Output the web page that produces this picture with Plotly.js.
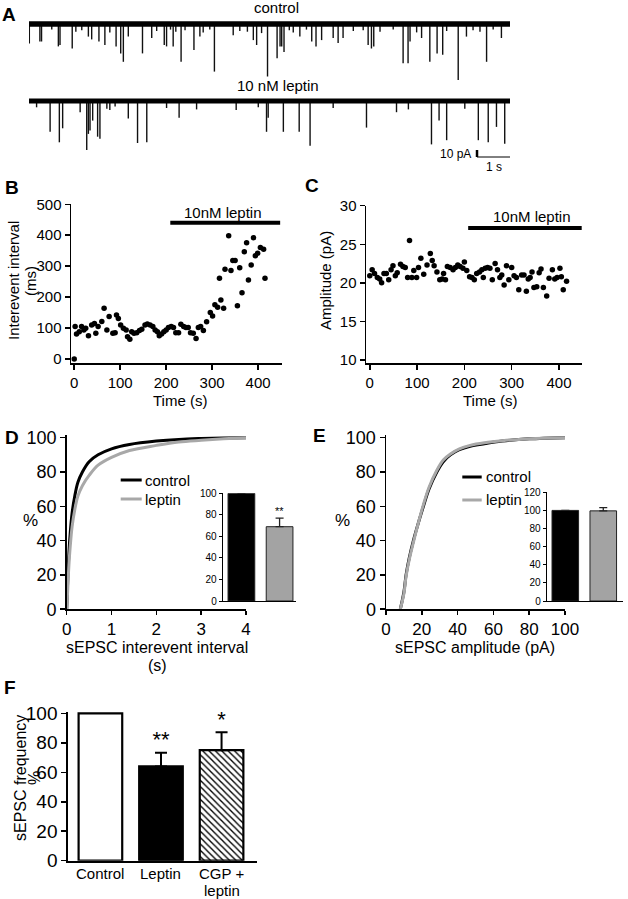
<!DOCTYPE html>
<html><head><meta charset="utf-8">
<script src="https://cdn.plot.ly/plotly-3.0.1.min.js"></script>
<style>body{margin:0;background:#fff}#c{width:628px;height:899px}</style>
</head><body><div id="c"></div>
<script>
// ---------- DATA ----------
// Panel A: spontaneous EPSC events (time s, amplitude pA)
const ctlEventT   = [0.01,0.33,0.38,0.89,0.94,1.31,1.80,1.90,2.12,2.30,2.64,2.78,2.86,3.01,3.44,3.72,4.10,4.17,4.37,4.61,5.00,5.18,5.62,6.19,6.80,6.90,7.05,7.23,7.52,7.61,7.66,7.73,8.21,8.57,8.70,8.87,9.22,9.37,9.52,10.28,10.38,10.45,11.34,11.49,11.55,11.90,12.15,12.37,12.54,13.01,13.26,13.87,14.32,
  0.69,1.42,1.60,2.45,3.87,4.29,4.45,4.73,5.28,5.48,6.39,6.62,7.89,8.01,8.41,9.83,10.13,10.64,11.04,11.75,12.66,13.46,13.67,14.07];
const ctlEventAmp = [28,25,25,32,30,35,18,22,25,30,32,42,54,18,42,20,30,32,32,54,37,18,68,16,23,30,13,75,49,32,32,40,18,25,32,23,20,27,20,30,35,32,56,56,25,20,54,42,44,80,18,54,20,
  8,11,9,12,10,8,11,9,12,8,10,11,9,12,8,10,9,11,8,12,10,9,11,8];
const lepEventT   = [0.64,0.92,1.02,1.55,1.75,1.80,1.85,1.93,2.08,2.15,2.45,3.01,3.29,3.57,4.55,7.20,7.25,7.71,8.19,8.52,10.23,11.14,12.20,12.43,12.66,13.62,13.92,14.17,14.42,
  0.23,2.36,2.61,4.17,5.08,6.28,6.95,9.22,11.50,13.21];
const lepEventAmp = [44,59,39,16,70,47,42,28,51,54,13,25,60,59,24,44,24,44,44,64,38,16,62,28,56,56,59,37,61,
  9,11,8,10,12,13,9,10,12,11];
const scaleBarPA = 10, scaleBarS = 1;

// Panel B: interevent interval over time
const bTime = [0,2,5,11,16,21,25,31,38,44,47,52,60,65,71,76,84,89,92,96,101,107,113,116,121,125,130,136,142,147,154,159,165,171,176,181,185,190,195,200,205,211,216,221,227,232,238,243,248,253,259,265,270,275,281,288,296,301,306,312,316,319,325,328,336,341,345,350,355,360,365,370,375,379,385,390,394,399,405,412,415];
const bInterval = [0,105,81,88,105,94,99,75,110,115,83,105,121,164,94,137,83,85,142,131,110,99,94,72,64,88,83,85,92,96,110,113,110,105,94,88,75,81,88,94,102,105,102,85,85,112,105,102,102,85,83,66,102,105,92,120,150,139,175,167,261,191,164,290,398,286,318,318,172,295,214,347,376,255,304,392,334,342,360,355,261];
const bLeptinPeriod = [209, 448];

// Panel C: amplitude over time
const cTime = [0,5,10,16,21,25,30,35,40,45,49,54,58,65,70,75,80,84,89,93,99,103,108,114,121,128,132,136,142,148,153,156,160,164,170,176,181,186,191,197,200,205,211,216,221,226,232,237,240,244,249,254,259,265,270,275,279,284,289,294,300,305,310,315,321,326,331,335,339,343,347,353,358,362,367,374,379,386,391,396,402,405,409,416];
const cAmplitude = [20.9,21.7,21.2,20.7,20.5,20.0,21.2,21.2,20.4,21.7,22.2,20.9,21.3,22.4,22.1,22.0,20.7,25.5,20.7,21.6,20.7,22.0,23.2,21.1,22.3,23.8,22.9,22.2,21.4,20.4,20.5,21.2,20.4,22.1,22.0,21.7,22.0,22.3,22.1,21.9,22.7,21.6,20.8,20.7,20.4,21.2,21.4,21.7,20.7,21.9,22.0,21.9,20.4,22.5,21.7,20.7,21.0,19.7,22.2,20.4,22.0,20.9,20.7,19.1,21.0,21.0,18.9,20.5,20.7,21.4,19.4,19.5,21.3,21.8,19.4,18.3,20.6,21.7,20.5,20.7,21.9,20.8,19.1,20.2];
const cLeptinPeriod = [208, 449];

// Panel D: cumulative distribution of interevent interval (s, %)
const dX       = [0,0.02,0.05,0.08,0.12,0.18,0.25,0.35,0.5,0.7,1.0,1.4,2.0,2.5,3.0,3.5,4.0];
const dControl = [0,15,33,45,56,66,74,80,86,90,93.5,96,98,99,99.5,99.8,100];
const dLeptin  = [0,10,26,37,48,58,66,72,78,84,88.5,92.5,95.5,97.5,98.5,99.3,100];
const dInsetVals = [100, 69];
const dInsetErr  = [0, 8];

// Panel E: cumulative distribution of amplitude (pA, %)
const eX       = [8,10,11.2,13,15.3,18,20.9,24,28.4,32,36,41,47,55,65,80,100];
const eControl = [0,10,20,30,40,50,60,70,80,86,90,93,95,96.5,98,99.3,100];
const eLeptin  = [0,9,19,29,39,50,61,71,81,87,90.5,93.5,95.5,97,98.2,99.4,100];
const eInsetVals = [100, 99.5];
const eInsetErr  = [0, 3.5];

// Panel F: sEPSC frequency
const fCats = ['Control', 'Leptin', 'CGP +<br>leptin'];
const fVals = [100, 64, 75];
const fErr  = [0, 9.3, 12.2];
const fStars = ['', '**', '*'];
// styles for F bars
const fFill = ['#fff', '#000', '#fff'];
const fHatch = ['', '', '\\'];

// ---------- LAYOUT HELPERS ----------
const W = 628, H = 899;
const FONT = 'Liberation Sans, Arial, Helvetica, sans-serif';
const dx = (a, b) => [a / W, b / W];
const dy = (t, b) => [1 - b / H, 1 - t / H];
function ann(text, x, y, size, extra) {
  return Object.assign({text, x: x / W, y: 1 - y / H, xref: 'paper', yref: 'paper', showarrow: false,
    font: {family: FONT, size, color: '#000'}, xanchor: 'center', yanchor: 'middle'}, extra || {});
}
function ax(extra) {
  return Object.assign({showline: true, linecolor: '#000', linewidth: 1.5, ticks: 'outside', ticklen: 5,
    tickwidth: 1.5, tickcolor: '#000', showgrid: false, zeroline: false, fixedrange: true,
    tickfont: {family: FONT, size: 15, color: '#000'}}, extra);
}
function spikes(ts, amps) {
  const x = [], y = [];
  ts.forEach((t, i) => { x.push(t, t, null); y.push(0, -amps[i], null); });
  return {x, y};
}
const traceEnd = 14.58;

const data = [];
// Panel A
const cs = spikes(ctlEventT, ctlEventAmp), ls = spikes(lepEventT, lepEventAmp);
data.push({x: cs.x, y: cs.y, xaxis: 'x', yaxis: 'y', mode: 'lines', line: {color: '#111', width: 1.4}, connectgaps: false});
data.push({x: [0, traceEnd], y: [0, 0], xaxis: 'x', yaxis: 'y', mode: 'lines', line: {color: '#000', width: 5.5}});
data.push({x: ls.x, y: ls.y, xaxis: 'x2', yaxis: 'y2', mode: 'lines', line: {color: '#111', width: 1.4}, connectgaps: false});
data.push({x: [0, traceEnd], y: [0, 0], xaxis: 'x2', yaxis: 'y2', mode: 'lines', line: {color: '#000', width: 5}});
// scale bar (in data units)
const sbX = traceEnd - scaleBarS, sbY = -70;
data.push({x: [sbX, sbX], y: [sbY, sbY - scaleBarPA], xaxis: 'x2', yaxis: 'y2', mode: 'lines', line: {color: '#000', width: 2.5}});
data.push({x: [sbX, sbX + scaleBarS], y: [sbY - scaleBarPA, sbY - scaleBarPA], xaxis: 'x2', yaxis: 'y2', mode: 'lines', line: {color: '#000', width: 1}});

// Panel B
data.push({x: bTime, y: bInterval, xaxis: 'x3', yaxis: 'y3', mode: 'markers', marker: {color: '#000', size: 5.5}, cliponaxis: false});
data.push({x: bLeptinPeriod, y: [440, 440], xaxis: 'x3', yaxis: 'y3', mode: 'lines', line: {color: '#000', width: 4}});
// Panel C
data.push({x: cTime, y: cAmplitude, xaxis: 'x4', yaxis: 'y4', mode: 'markers', marker: {color: '#000', size: 5.5}, cliponaxis: false});
data.push({x: cLeptinPeriod, y: [27.1, 27.1], xaxis: 'x4', yaxis: 'y4', mode: 'lines', line: {color: '#000', width: 4}});
// Panel D
data.push({x: dX, y: dControl, xaxis: 'x5', yaxis: 'y5', mode: 'lines', line: {color: '#000', width: 3, shape: 'spline'}});
data.push({x: dX, y: dLeptin, xaxis: 'x5', yaxis: 'y5', mode: 'lines', line: {color: '#a8a8a8', width: 3, shape: 'spline'}});
data.push({x: [0, 1], y: dInsetVals, xaxis: 'x6', yaxis: 'y6', type: 'bar', width: 0.7,
  marker: {color: ['#000', '#a3a3a3'], line: {color: '#222', width: 1}},
  error_y: {type: 'data', symmetric: false, array: dInsetErr, arrayminus: [0, 0], color: '#222', thickness: 1.3, width: 4}});
// Panel E
data.push({x: eX, y: eControl, xaxis: 'x7', yaxis: 'y7', mode: 'lines', line: {color: '#000', width: 3, shape: 'spline'}});
data.push({x: eX, y: eLeptin, xaxis: 'x7', yaxis: 'y7', mode: 'lines', line: {color: '#a8a8a8', width: 3, shape: 'spline'}});
data.push({x: [0, 1], y: eInsetVals, xaxis: 'x8', yaxis: 'y8', type: 'bar', width: 0.7,
  marker: {color: ['#000', '#a3a3a3'], line: {color: '#222', width: 1}},
  error_y: {type: 'data', symmetric: false, array: eInsetErr, arrayminus: [0, 0], color: '#222', thickness: 1.3, width: 4}});
// Panel F (one bar trace per condition so each gets its own fill)
fCats.forEach((c, i) => {
  const m = {color: fFill[i], line: {color: '#000', width: 2.2}};
  if (fHatch[i]) m.pattern = {shape: fHatch[i], fgcolor: '#000', bgcolor: '#fff', size: 4.5, solidity: 0.3, fillmode: 'replace'};
  data.push({x: [c], y: [fVals[i]], xaxis: 'x9', yaxis: 'y9', type: 'bar', width: 0.72, marker: m,
    error_y: {type: 'data', symmetric: false, array: [fErr[i]], arrayminus: [0], color: '#000', thickness: 2, width: 6, visible: fErr[i] > 0}});
});
data.push({x: fCats, y: fVals.map((v, i) => v + fErr[i]), xaxis: 'x9', yaxis: 'y9', mode: 'text', text: fStars,
  textposition: 'top center', textfont: {family: FONT, size: 22, color: '#000'}, cliponaxis: false});

data.forEach(t => { t.hoverinfo = 'skip'; t.showlegend = false; });

// category labels for F (drawn as text under the category axis, one line each)
const fLabelAnns = [];
fCats.forEach(c => {
  c.split('<br>').forEach((line, k) => {
    fLabelAnns.push({text: line, x: c, xref: 'x9', y: 1 - (873 + 17 * k) / H, yref: 'paper', showarrow: false,
      xanchor: 'center', yanchor: 'middle', font: {family: FONT, size: 15, color: '#000'}});
  });
});

const layout = {
  width: W, height: H, autosize: false, margin: {l: 0, r: 0, t: 0, b: 0}, barmode: 'overlay',
  paper_bgcolor: '#fff', plot_bgcolor: 'rgba(0,0,0,0)', showlegend: false,
  font: {family: FONT, color: '#000'},
  // A
  xaxis:  {domain: dx(29, 510), range: [0, traceEnd], visible: false, fixedrange: true, anchor: 'y'},
  yaxis:  {domain: dy(10, 94), range: [-100, 20], visible: false, fixedrange: true, anchor: 'x'},
  xaxis2: {domain: dx(29, 510), range: [0, traceEnd], visible: false, fixedrange: true, anchor: 'y2'},
  yaxis2: {domain: dy(87, 171), range: [-100, 20], visible: false, fixedrange: true, anchor: 'x2'},
  // B
  xaxis3: ax({domain: dx(71, 282), range: [-7, 452], tickvals: [0, 100, 200, 300, 400], anchor: 'y3'}),
  yaxis3: ax({domain: dy(204.3, 363), range: [-13, 500], tickvals: [0, 100, 200, 300, 400, 500], anchor: 'x3'}),
  // C
  xaxis4: ax({domain: dx(366, 581.7), range: [-8, 448], tickvals: [0, 100, 200, 300, 400], anchor: 'y4'}),
  yaxis4: ax({domain: dy(205.7, 363), range: [9.6, 30], tickvals: [10, 15, 20, 25, 30], anchor: 'x4'}),
  // D
  xaxis5: ax({domain: dx(66.7, 246), range: [0, 4], tickvals: [0, 1, 2, 3, 4], anchor: 'y5', ticklen: 4, tickfont: {family: FONT, size: 17, color: '#000'}}),
  yaxis5: ax({domain: dy(435.1, 609.2), range: [0, 101.5], tickvals: [0, 20, 40, 60, 80, 100], anchor: 'x5', tickfont: {family: FONT, size: 18, color: '#000'}}),
  xaxis6: ax({domain: dx(222.7, 296), range: [-0.49, 1.43], ticks: '', showticklabels: false, anchor: 'y6', linewidth: 1}),
  yaxis6: ax({domain: dy(493.3, 601), range: [0, 100], tickvals: [0, 20, 40, 60, 80, 100], anchor: 'x6', ticklen: 3, tickwidth: 1, linewidth: 1, tickfont: {family: FONT, size: 10, color: '#000'}}),
  // E
  xaxis7: ax({domain: dx(386, 565), range: [0, 100], tickvals: [0, 20, 40, 60, 80, 100], anchor: 'y7', ticklen: 4, tickfont: {family: FONT, size: 17, color: '#000'}}),
  yaxis7: ax({domain: dy(435.1, 609.2), range: [0, 101.5], tickvals: [0, 20, 40, 60, 80, 100], anchor: 'x7', tickfont: {family: FONT, size: 18, color: '#000'}}),
  xaxis8: ax({domain: dx(546.7, 623), range: [-0.49, 1.52], ticks: '', showticklabels: false, anchor: 'y8', linewidth: 1}),
  yaxis8: ax({domain: dy(492.3, 601), range: [0, 120], tickvals: [0, 20, 40, 60, 80, 100, 120], anchor: 'x8', ticklen: 3, tickwidth: 1, linewidth: 1, tickfont: {family: FONT, size: 10, color: '#000'}}),
  // F
  xaxis9: ax({domain: dx(68.3, 256.7), range: [-0.53, 2.58], ticks: '', showticklabels: false, anchor: 'y9', linewidth: 2, categoryorder: 'array', categoryarray: fCats}),
  yaxis9: ax({domain: dy(711.9, 860.7), range: [0, 101], tickvals: [0, 20, 40, 60, 80, 100], anchor: 'x9', linewidth: 2, tickfont: {family: FONT, size: 19, color: '#000'}}),
  shapes: [
    // legend D
    {type: 'line', xref: 'paper', yref: 'paper', x0: 120.7 / W, x1: 141.7 / W, y0: 1 - 480 / H, y1: 1 - 480 / H, line: {color: '#000', width: 3}},
    {type: 'line', xref: 'paper', yref: 'paper', x0: 120.7 / W, x1: 141.7 / W, y0: 1 - 499 / H, y1: 1 - 499 / H, line: {color: '#a8a8a8', width: 3}},
    // legend E
    {type: 'line', xref: 'paper', yref: 'paper', x0: 462.3 / W, x1: 481.7 / W, y0: 1 - 477 / H, y1: 1 - 477 / H, line: {color: '#000', width: 3}},
    {type: 'line', xref: 'paper', yref: 'paper', x0: 462.3 / W, x1: 481.7 / W, y0: 1 - 500 / H, y1: 1 - 500 / H, line: {color: '#a8a8a8', width: 3}}
  ],
  annotations: [
    ann('<b>A</b>', 9, 14, 19),
    ann('control', 276, 8, 15),
    ann('10 nM leptin', 278, 86, 15),
    {text: scaleBarPA + ' pA', x: sbX - 0.12, y: sbY - scaleBarPA / 2, xref: 'x2', yref: 'y2', xanchor: 'right', yanchor: 'middle', showarrow: false, font: {family: FONT, size: 12, color: '#000'}},
    {text: scaleBarS + ' s', x: sbX + scaleBarS / 2, y: sbY - scaleBarPA - 1, xref: 'x2', yref: 'y2', xanchor: 'center', yanchor: 'top', showarrow: false, font: {family: FONT, size: 12, color: '#000'}},
    // B
    ann('<b>B</b>', 12, 187, 19),
    ann('Interevent interval', 13, 281, 15, {textangle: -90}),
    ann('(ms)', 30, 281, 15, {textangle: -90}),
    ann('Time (s)', 180, 400, 15),
    {text: '10nM leptin', x: 324, y: 440, xref: 'x3', yref: 'y3', yshift: 10, showarrow: false, xanchor: 'center', yanchor: 'middle', font: {family: FONT, size: 15, color: '#000'}},
    // C
    ann('<b>C</b>', 312, 186, 19),
    ann('Amplitude (pA)', 325, 281, 15, {textangle: -90}),
    ann('Time (s)', 490, 400, 15),
    {text: '10nM leptin', x: 342, y: 27.1, xref: 'x4', yref: 'y4', yshift: 12, showarrow: false, xanchor: 'center', yanchor: 'middle', font: {family: FONT, size: 15, color: '#000'}},
    // D
    ann('<b>D</b>', 12, 437, 19),
    ann('%', 30, 520, 17),
    ann('sEPSC interevent interval', 157, 647, 16),
    ann('(s)', 157, 665, 16),
    ann('control', 143, 480, 15, {xanchor: 'left'}),
    ann('leptin', 143, 499, 15, {xanchor: 'left'}),
    {text: '**', x: 1, y: 84, xref: 'x6', yref: 'y6', showarrow: false, xanchor: 'center', yanchor: 'middle', font: {family: FONT, size: 11, color: '#000'}},
    // E
    ann('<b>E</b>', 319, 436, 19),
    ann('%', 342, 520, 17),
    ann('sEPSC amplitude (pA)', 475, 647, 16),
    ann('control', 484, 477, 15, {xanchor: 'left'}),
    ann('leptin', 484, 500, 15, {xanchor: 'left'}),
    // F
    ann('<b>F</b>', 10, 687, 19),
    ann('sEPSC frequency', 20, 778, 16, {textangle: -90}),
    ann('%', 34, 778, 16, {textangle: -90})
  ].concat(fLabelAnns)
};

Plotly.newPlot('c', data, layout, {staticPlot: true, displayModeBar: false});
</script>
</body></html>
